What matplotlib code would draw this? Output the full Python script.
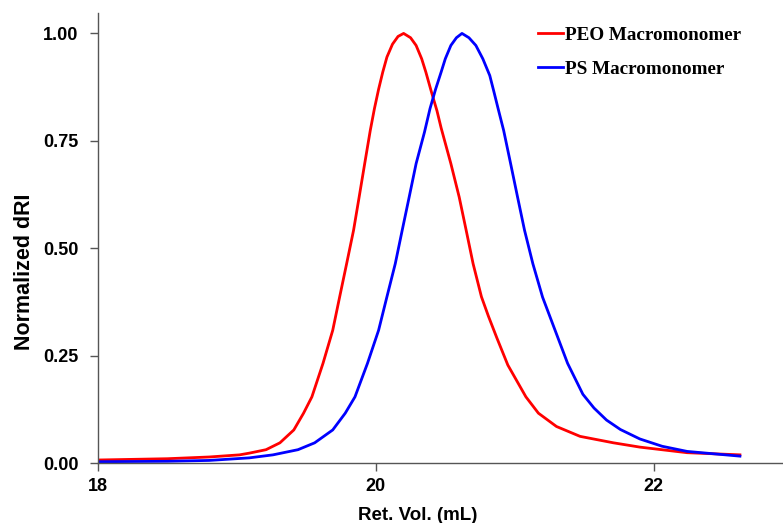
import matplotlib.pyplot as plt

# GPC traces
peo_vol = [18.0, 18.5, 18.8, 19.02, 19.09, 19.21, 19.31, 19.41, 19.48, 19.54,
           19.62, 19.69, 19.74, 19.79, 19.84, 19.88, 19.92, 19.96, 19.99, 20.02,
           20.05, 20.08, 20.12, 20.16, 20.20, 20.25, 20.29, 20.33, 20.36, 20.40,
           20.44, 20.47, 20.54, 20.60, 20.65, 20.70, 20.76, 20.81, 20.87, 20.95,
           21.08, 21.17, 21.30, 21.47, 21.71, 21.90, 22.24, 22.62]
peo_dri = [0.007, 0.010, 0.014, 0.019, 0.023, 0.031, 0.047, 0.077, 0.116, 0.154,
           0.232, 0.309, 0.387, 0.464, 0.542, 0.619, 0.697, 0.774, 0.825, 0.87,
           0.91, 0.945, 0.975, 0.993, 1.0, 0.99, 0.972, 0.941, 0.91, 0.864,
           0.82, 0.78, 0.697, 0.619, 0.542, 0.464, 0.387, 0.342, 0.292, 0.228,
           0.154, 0.116, 0.085, 0.062, 0.047, 0.037, 0.024, 0.019]

ps_vol = [18.0, 18.5, 18.8, 19.09, 19.26, 19.44, 19.56, 19.69, 19.78, 19.85,
          19.94, 20.02, 20.08, 20.14, 20.19, 20.24, 20.29, 20.35, 20.39, 20.43,
          20.47, 20.50, 20.54, 20.58, 20.62, 20.67, 20.72, 20.77, 20.82, 20.85,
          20.88, 20.92, 20.97, 21.02, 21.07, 21.13, 21.20, 21.29, 21.38,
          21.49, 21.57, 21.66, 21.76, 21.90, 22.06, 22.24, 22.62]
ps_dri = [0.003, 0.004, 0.006, 0.012, 0.019, 0.031, 0.047, 0.077, 0.116, 0.154,
          0.232, 0.309, 0.387, 0.464, 0.542, 0.619, 0.697, 0.77, 0.825, 0.87,
          0.91, 0.941, 0.972, 0.99, 1.0, 0.99, 0.972, 0.941, 0.902, 0.864,
          0.825, 0.774, 0.697, 0.619, 0.542, 0.464, 0.386, 0.309, 0.232,
          0.16, 0.128, 0.10, 0.078, 0.056, 0.039, 0.027, 0.016]

x_ticks = [18, 20, 22]
y_ticks = [0.0, 0.25, 0.5, 0.75, 1.0]

plt.rcParams['font.family'] = ['Liberation Sans', 'DejaVu Sans']

fig = plt.figure(figsize=(7.83, 5.23), dpi=100)
ax = fig.add_axes([0.125, 0.1147, 0.875, 0.860])

ax.plot(peo_vol, peo_dri, color='#ff0000', lw=2.0, label='PEO Macromonomer')
ax.plot(ps_vol, ps_dri, color='#0000ff', lw=2.0, label='PS Macromonomer')

ax.set_xlim(18, 22.93)
ax.set_ylim(0, 1.047)
ax.set_xticks(x_ticks)
ax.set_yticks(y_ticks)
ax.set_yticklabels([f'{v:.2f}' for v in y_ticks])

for s in ['top', 'right']:
    ax.spines[s].set_visible(False)
for s in ['left', 'bottom']:
    ax.spines[s].set_color('#555555')
    ax.spines[s].set_linewidth(1.0)
ax.tick_params(direction='out', length=6, color='#555555', width=1.0,
               labelsize=13)
ax.tick_params(axis='y', pad=8)
ax.tick_params(axis='x', pad=5)
for lab in ax.get_xticklabels() + ax.get_yticklabels():
    lab.set_fontweight('bold')

ax.set_xlabel('Ret. Vol. (mL)', fontsize=13.5, fontweight='bold')
ax.set_ylabel('Normalized dRI', fontsize=15.5, fontweight='bold')
ax.xaxis.set_label_coords(0.467, -0.098)
ax.yaxis.set_label_coords(-0.092, 0.424)

ax.legend(loc='upper left', bbox_to_anchor=(0.642, 0.97), frameon=False,
          borderpad=0, borderaxespad=0,
          handlelength=1.3, handletextpad=0.1, labelspacing=0.86,
          prop={'family': 'Liberation Serif', 'weight': 'bold', 'size': 13.8})

plt.savefig('out.png', dpi=100)
